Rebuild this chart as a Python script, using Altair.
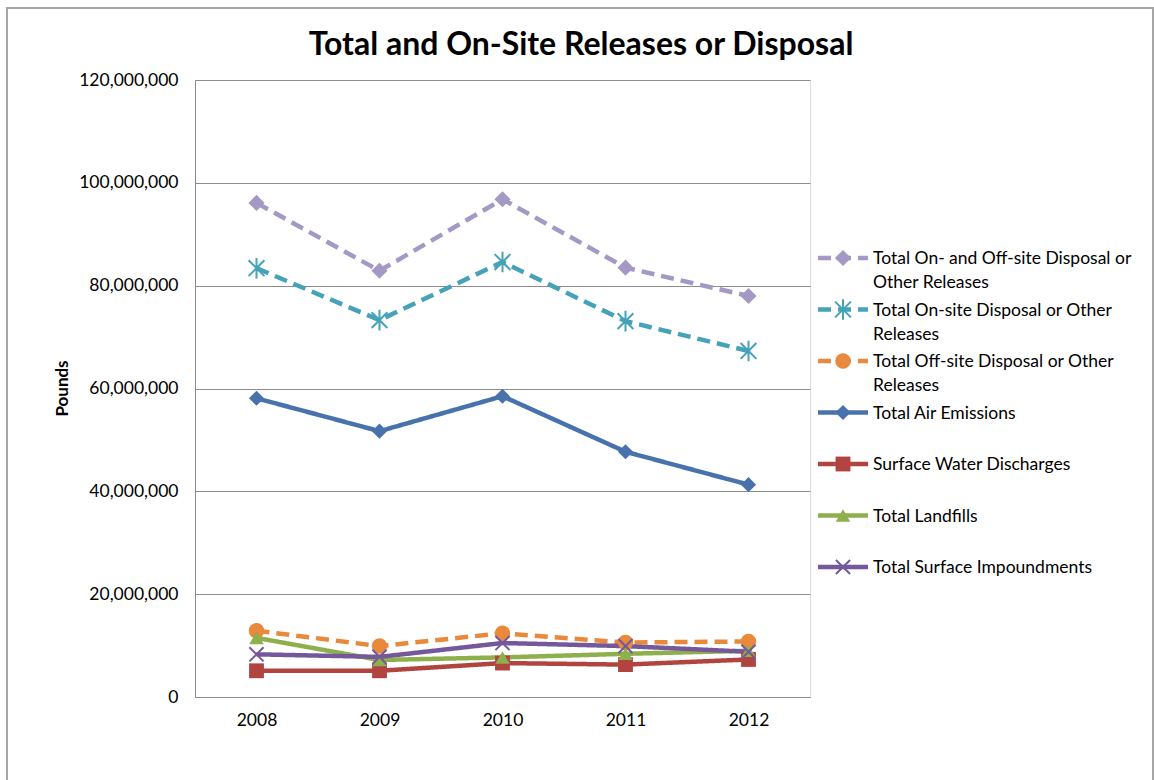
import altair as alt
import pandas as pd

years = ["2008", "2009", "2010", "2011", "2012"]

series_names = [
    "Total On- and Off-site Disposal or Other Releases",
    "Total On-site Disposal or Other Releases",
    "Total Off-site Disposal or Other Releases",
    "Total Air Emissions",
    "Surface Water Discharges",
    "Total Landfills",
    "Total Surface Impoundments",
]
legend_labels = [
    "Total On- and Off-site Disposal or\nOther Releases",
    "Total On-site Disposal or Other\nReleases",
    "Total Off-site Disposal or Other\nReleases",
    "Total Air Emissions",
    "Surface Water Discharges",
    "Total Landfills",
    "Total Surface Impoundments",
]
title_text = ["Total and On-Site Releases or Disposal"]

total_on_off = [96_100_000, 82_900_000, 96_800_000, 83_500_000, 78_000_000]
on_site = [83_400_000, 73_300_000, 84_600_000, 73_100_000, 67_300_000]
off_site = [12_900_000, 9_900_000, 12_400_000, 10_600_000, 10_800_000]
air = [58_100_000, 51_700_000, 58_500_000, 47_700_000, 41_300_000]
water = [5_100_000, 5_100_000, 6_600_000, 6_300_000, 7_300_000]
landfills = [11_500_000, 7_200_000, 7_700_000, 8_400_000, 9_000_000]
impound = [8_300_000, 7_800_000, 10_500_000, 9_900_000, 8_800_000]

values = [total_on_off, on_site, off_site, air, water, landfills, impound]
colors = ["#A498C4", "#45A2B9", "#E8893C", "#4872AB", "#B2443F", "#8DAF4C", "#74589B"]
dashes = ["dashed", "dashed", "dashed", "solid", "solid", "solid", "solid"]
ASTER = "M-1,-1L1,1M-1,1L1,-1M0,-1.3L0,1.3"
XSHAPE = "M-1,-1L1,1M-1,1L1,-1"
shapes = ["diamond", ASTER, "circle", "diamond", "square", "triangle-up", XSHAPE]
filled = [True, False, True, True, True, True, False]
sizes = [260, 200, 300, 210, 190, 210, 170]

rows = []
for i, name in enumerate(series_names):
    for y, v in zip(years, values[i]):
        rows.append({"series": name, "year": y, "value": v, "order": i,
                     "filled": filled[i], "dash": dashes[i]})
df = pd.DataFrame(rows)

leg = pd.DataFrame({
    "series": series_names,
    "label": legend_labels,
    "row": list(range(7)),
    "filled": filled,
    "dash": dashes,
})

FONT = "Lato"
color_scale = alt.Scale(domain=series_names, range=colors)
shape_scale = alt.Scale(domain=series_names, range=shapes)
size_scale = alt.Scale(domain=series_names, range=sizes)
dash_scale = alt.Scale(domain=["solid", "dashed"], range=[[1, 0], [13, 7]])

x_enc = alt.X("year:O", scale=alt.Scale(type="point", padding=0.5),
              axis=alt.Axis(title=None, labelAngle=0, ticks=False, grid=False,
                            domainColor="#8c8c8c", labelPadding=14,
                            labelFont=FONT, labelFontSize=17.5, labelColor="#000"))
y_enc = alt.Y("value:Q", scale=alt.Scale(domain=[0, 120_000_000], nice=False),
              axis=alt.Axis(title="Pounds", values=list(range(0, 120_000_001, 20_000_000)),
                            format=",d", ticks=False, grid=True, gridColor="#8c8c8c",
                            domainColor="#8c8c8c", labelPadding=17,
                            labelFont=FONT, labelFontSize=17.5, labelColor="#000",
                            titleFont=FONT, titleFontSize=17, titleFontWeight="bold",
                            titleColor="#000", titleX=-133, titleY=308, titleAngle=-90,
                            titleAlign="center", titleBaseline="middle"))

color_enc = alt.Color("series:N", scale=color_scale, legend=None)
shape_enc = alt.Shape("series:N", scale=shape_scale, legend=None)
size_enc = alt.Size("series:N", scale=size_scale, legend=None)

base = alt.Chart(df)
lines = base.mark_line(strokeWidth=4.5).encode(
    x=x_enc, y=y_enc, color=color_enc,
    strokeDash=alt.StrokeDash("dash:N", scale=dash_scale, legend=None),
    order=alt.Order("order:Q"),
)
pts_f = base.transform_filter("datum.filled").mark_point(filled=True, opacity=1).encode(
    x=x_enc, y=y_enc, color=color_enc, shape=shape_enc, size=size_enc,
)
pts_s = base.transform_filter("!datum.filled").mark_point(filled=False, opacity=1, strokeWidth=2).encode(
    x=x_enc, y=y_enc, color=color_enc, shape=shape_enc, size=size_enc,
)
main = alt.layer(lines, pts_f, pts_s)

# manual legend
ly = alt.Y("row:Q", scale=alt.Scale(domain=[0, 6], range=[178, 487]), axis=None)
lbase = alt.Chart(leg)
leg_solid = lbase.transform_filter("datum.dash == 'solid'").mark_rule(strokeWidth=4.5).encode(
    x=alt.value(623), x2=alt.value(673), y=ly, color=color_enc,
)
leg_dash = lbase.transform_filter("datum.dash == 'dashed'").mark_rule(strokeWidth=4.5, strokeDash=[13, 7]).encode(
    x=alt.value(623), x2=alt.value(673), y=ly, color=color_enc,
)
leg_pf = lbase.transform_filter("datum.filled").mark_point(filled=True, opacity=1).encode(
    x=alt.value(648), y=ly, color=color_enc, shape=shape_enc, size=size_enc,
)
leg_ps = lbase.transform_filter("!datum.filled").mark_point(filled=False, opacity=1, strokeWidth=2).encode(
    x=alt.value(648), y=ly, color=color_enc, shape=shape_enc, size=size_enc,
)
leg_text = lbase.mark_text(align="left", baseline="alphabetic", dy=6, font=FONT, fontSize=17.5,
                           color="#000", lineBreak="\n", lineHeight=24).encode(
    x=alt.value(678), y=ly, text="label:N",
)
legend = alt.layer(leg_solid, leg_dash, leg_pf, leg_ps, leg_text)

frame = alt.Chart(pd.DataFrame({"a": [0]})).mark_rect(fill=None, stroke="#a6a6a6", strokeWidth=2).encode(
    x=alt.value(-188), x2=alt.value(958), y=alt.value(-72), y2=alt.value(720),
)
title = alt.Chart(pd.DataFrame({"t": title_text})).mark_text(
    font=FONT, fontSize=32, fontWeight="bold", color="#000", align="center", baseline="middle"
).encode(x=alt.value(386), y=alt.value(-35), text="t:N")

chart = alt.layer(frame, title, main, legend).resolve_scale(y="independent").properties(
    width=615, height=617,
    autosize=alt.AutoSizeParams(type="none"),
    padding={"left": 195, "top": 80, "right": 344, "bottom": 83},
).configure_view(stroke=None).configure(background="white")

chart.save("out.html", embed_options={"renderer": "svg", "actions": False})
